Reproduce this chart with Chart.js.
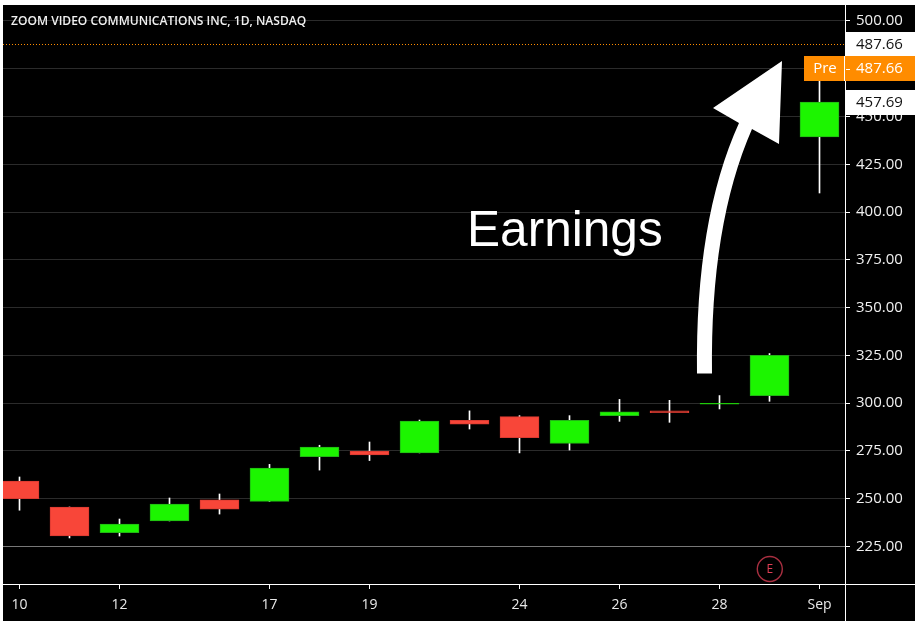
<!DOCTYPE html>
<html>
<head>
<meta charset="utf-8">
<style>
html,body{margin:0;padding:0;background:#fff;}
canvas{display:block;}
#w{width:919px;height:626px;position:relative;}
</style>
<script src="https://cdn.jsdelivr.net/npm/chart.js@4"></script>
</head>
<body>
<div id="w"><canvas id="c" width="919" height="626"></canvas></div>
<script>
const categories = ["10","11","12","13","14","17","18","19","20","21","24","25","26","27","28","31","Sep"];
const opens  = [259.3,245.7,232.3,238.4,249.4,248.6,272,275,274,291,293,279,293.5,296,299.5,304,439.3];
const closes = [250.1,230.5,236.8,247.2,244.6,266,277,273,290.7,289,282,291,295.5,295,300,325,457.6];
const highs  = [261.4,245.7,239.4,250.4,252.5,268,278,279.7,291.2,296,293.5,293.5,302,301.5,304,326,475];
const lows   = [244,229.5,230.5,238.4,242,248.6,265,270,274,286.5,274,275.5,290.5,290,297,301,410];
const shownDates = ["10","12","17","19","24","26","28","Sep"];
const priceTicks = [225,250,275,300,325,350,375,400,425,450,475,500];
const title = "ZOOM VIDEO COMMUNICATIONS INC, 1D, NASDAQ";
const lastPrice = 487.66;
const closeLabel = 457.69;
const earningsIndex = 15;
const annotationText = "Earnings";

const GREEN='#1cf500', GREEN_B='#22b515', RED='#f84639', RED_B='#d93a30';
const FONT='"Open Sans", sans-serif';
const fmt=v=>v.toFixed(2);
const Y_MIN=205.4, Y_MAX=508.37;

const overlay={
  id:'overlay',
  beforeDraw(ch){
    const c=ch.ctx;
    c.save();
    c.fillStyle='#fff';c.fillRect(0,0,919,626);
    c.fillStyle='#000';c.fillRect(3,5,912,616);
    c.restore();
  },
  afterDraw(ch){
    const c=ch.ctx,y=ch.scales.y,x=ch.scales.x,R=ch.chartArea.right,B=ch.chartArea.bottom;
    c.save();
    c.strokeStyle='#fff';c.lineWidth=1;
    c.beginPath();c.moveTo(3,B+.5);c.lineTo(915,B+.5);c.moveTo(R+.5,5);c.lineTo(R+.5,621);c.stroke();
    c.fillStyle='#f0f0f0';c.font='600 12.05px '+FONT;c.textAlign='left';c.textBaseline='middle';
    c.fillText(title,11,21.5);
    const py=Math.floor(y.getPixelForValue(lastPrice))+.5;
    c.strokeStyle='#ff8c00';c.setLineDash([1,2]);
    c.beginPath();c.moveTo(3,py);c.lineTo(R,py);c.stroke();c.setLineDash([]);
    c.font='15px '+FONT;c.textBaseline='middle';
    c.fillStyle='#fff';c.fillRect(846,32,69,24);
    c.fillStyle='#111';c.fillText(fmt(lastPrice),856,45);
    c.fillStyle='#ff8c00';c.fillRect(804,56,111,25);
    c.fillStyle='#fff';c.fillRect(844,56,1,25);
    const t475=Math.round(y.getPixelForValue(475));
    c.fillRect(846,t475,4,1);
    c.fillStyle='#fff';c.fillText(fmt(lastPrice),856,69);
    c.textAlign='center';c.fillText('Pre',825,69);c.textAlign='left';
    c.fillStyle='#fff';c.fillRect(846,90,69,25);
    c.fillStyle='#111';c.fillText(fmt(closeLabel),856,103);
    const ex=x.getPixelForValue(earningsIndex);
    c.strokeStyle='#a82f40';c.lineWidth=1.4;
    c.beginPath();c.arc(ex+.3,569,12.5,0,Math.PI*2);c.stroke();
    c.fillStyle='#e03e55';c.font='12px '+FONT;c.textAlign='center';c.fillText('E',ex+.3,569.5);
    c.fillStyle='#fff';c.font='49.6px "Liberation Sans", sans-serif';c.textAlign='left';c.textBaseline='alphabetic';
    c.fillText(annotationText,467,246);
    c.beginPath();
    c.moveTo(697,373.5);
    c.quadraticCurveTo(695,220,739,123);
    c.lineTo(713,108);
    c.lineTo(782,61);
    c.lineTo(779,144);
    c.lineTo(752,129);
    c.quadraticCurveTo(710,225,712,373.5);
    c.closePath();
    c.fill();
    c.restore();
  }
};

new Chart(document.getElementById('c'),{
  type:'bar',
  data:{datasets:[
    {
      data:categories.map((d,i)=>({x:i,y:[opens[i],closes[i]]})),
      grouped:false,barThickness:39,borderWidth:1,borderSkipped:false,
      backgroundColor:categories.map((d,i)=>closes[i]>=opens[i]?GREEN:RED),
      borderColor:categories.map((d,i)=>closes[i]>=opens[i]?GREEN_B:RED_B)
    },
    {
      data:categories.map((d,i)=>({x:i,y:[lows[i],highs[i]]})),
      grouped:false,barThickness:1,borderWidth:0,borderSkipped:false,
      backgroundColor:'#ffffff'
    }
  ]},
  plugins:[overlay],
  options:{
    responsive:false,animation:false,
    devicePixelRatio:1,
    layout:{autoPadding:false,padding:{left:3,top:5,right:4,bottom:5}},
    plugins:{legend:{display:false},tooltip:{enabled:false},title:{display:false}},
    scales:{
      x:{
        type:'linear',min:-0.33,max:16.51,offset:false,
        afterBuildTicks(s){s.ticks=categories.map((d,i)=>({value:i,label:d})).filter(t=>shownDates.includes(t.label));},
        afterFit(s){s.height=37;s.paddingLeft=0;s.paddingRight=0;},
        grid:{drawOnChartArea:false,drawTicks:true,tickColor:'#fff',tickLength:5,offset:false},
        border:{color:'#fff'},
        ticks:{autoSkip:false,maxRotation:0,padding:8,color:'#e8e8e8',font:{family:'"Open Sans"',size:14},
          callback(v){return categories[v];}}
      },
      y:{
        type:'linear',position:'right',min:Y_MIN,max:Y_MAX,bounds:'data',
        afterBuildTicks(s){s.ticks=priceTicks.map(v=>({value:v}));s.min=Y_MIN;s.max=Y_MAX;},
        afterFit(s){s.width=70;s.paddingTop=0;s.paddingBottom=0;},
        grid:{color:c=>c.tick&&c.tick.value===225?'#777777':'#2b2b2b',tickColor:'#fff',tickLength:5},
        border:{color:'#fff'},
        ticks:{autoSkip:false,padding:6,color:'#f0f0f0',font:{family:'"Open Sans"',size:15},
          callback:v=>fmt(v)}
      }
    }
  }
});
</script>
</body>
</html>
